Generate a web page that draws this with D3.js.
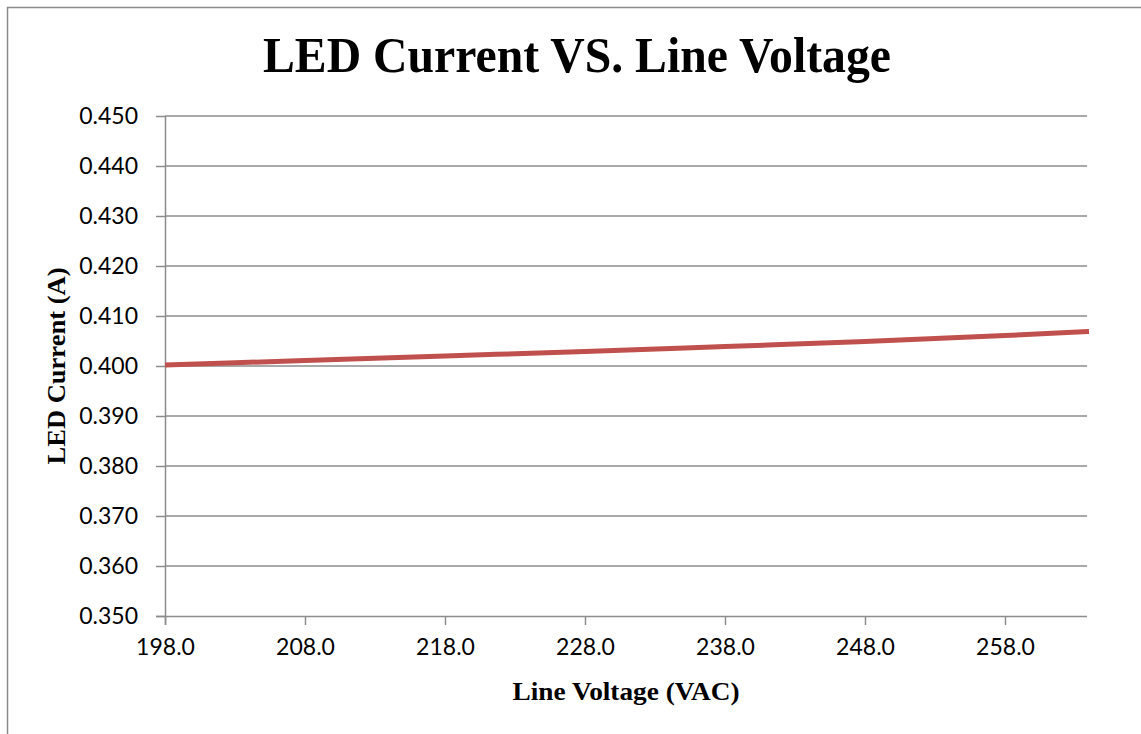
<!DOCTYPE html>
<html>
<head>
<meta charset="utf-8">
<script src="https://cdn.jsdelivr.net/npm/d3@7"></script>
<style>
  html, body { margin: 0; padding: 0; background: #fff; }
  svg { display: block; }
</style>
</head>
<body>
<svg id="chart" width="1141" height="734"></svg>
<script>
const titleText = "LED Current VS. Line Voltage";
const xTitle = "Line Voltage (VAC)";
const yTitle = "LED Current (A)";
const voltage = [198, 208, 218, 228, 238, 248, 258, 264];
const current = [0.4002, 0.4011, 0.4020, 0.4029, 0.4039, 0.4049, 0.4061, 0.4069];
const xTicks = [198, 208, 218, 228, 238, 248, 258];
const yTicks = [0.350, 0.360, 0.370, 0.380, 0.390, 0.400, 0.410, 0.420, 0.430, 0.440, 0.450];

const svg = d3.select("#chart");
const W = 1141, H = 734;
const m = { left: 165, top: 116, right: 1087, bottom: 616 };

svg.append("rect").attr("x", 0).attr("y", 0).attr("width", W).attr("height", H).attr("fill", "#fff");
svg.append("rect").attr("x", 7.5).attr("y", 7.5).attr("width", 1200).attr("height", 800)
  .attr("fill", "none").attr("stroke", "#8a8a8a").attr("stroke-width", 1.5);

const x = d3.scaleLinear().domain([198, 198 + (m.right - m.left) / 14]).range([m.left, m.right]);
const y = d3.scaleLinear().domain([0.35, 0.45]).range([m.bottom, m.top]);

// gridlines
svg.append("g").selectAll("line").data(yTicks.filter(d => d > 0.35)).join("line")
  .attr("x1", m.left).attr("x2", m.right)
  .attr("y1", d => y(d)).attr("y2", d => y(d))
  .attr("stroke", "#8c8c8c").attr("stroke-width", 1.5);

// y axis
const yAxis = svg.append("g").attr("transform", `translate(${m.left},0)`)
  .call(d3.axisLeft(y).tickValues(yTicks).tickFormat(d3.format(".3f")).tickSize(9).tickPadding(18));
// x axis
const xAxis = svg.append("g").attr("transform", `translate(0,${m.bottom})`)
  .call(d3.axisBottom(x).tickValues(xTicks).tickFormat(d3.format(".1f")).tickSize(9).tickPadding(14));

[yAxis, xAxis].forEach(a => {
  a.select(".domain").attr("stroke", "#8c8c8c").attr("stroke-width", 1.5);
  a.selectAll(".tick line").attr("stroke", "#8c8c8c").attr("stroke-width", 1.5);
  a.selectAll(".tick text").attr("fill", "#000")
    .style("font-family", "Lato, 'Liberation Sans', sans-serif").style("font-size", "23px");
});
// extend x domain visually: make x axis line start at tick left
xAxis.select(".domain").attr("d", `M${m.left - 9},0.5H${m.right}`);
yAxis.select(".domain").attr("d", `M0.5,${m.top}V${m.bottom + 9}`);

// line
const line = d3.line().x((d, i) => x(voltage[i])).y(d => y(d)).curve(d3.curveMonotoneX);
svg.append("path").datum(current)
  .attr("d", line).attr("fill", "none")
  .attr("stroke", "#C0504D").attr("stroke-width", 5).attr("stroke-linecap", "butt");

// title
svg.append("text").attr("x", 577).attr("y", 72).attr("text-anchor", "middle")
  .attr("textLength", 628).attr("lengthAdjust", "spacingAndGlyphs")
  .style("font-family", "'Liberation Serif', 'Times New Roman', serif")
  .style("font-weight", "bold").style("font-size", "51px").text(titleText);

// x title
svg.append("text").attr("x", 626).attr("y", 700).attr("text-anchor", "middle")
  .attr("textLength", 227).attr("lengthAdjust", "spacingAndGlyphs")
  .style("font-family", "'Liberation Serif', 'Times New Roman', serif")
  .style("font-weight", "bold").style("font-size", "25px").text(xTitle);

// y title
svg.append("text").attr("transform", `translate(65,366) rotate(-90)`).attr("text-anchor", "middle")
  .attr("textLength", 197).attr("lengthAdjust", "spacingAndGlyphs")
  .style("font-family", "'Liberation Serif', 'Times New Roman', serif")
  .style("font-weight", "bold").style("font-size", "25px").text(yTitle);
</script>
</body>
</html>
